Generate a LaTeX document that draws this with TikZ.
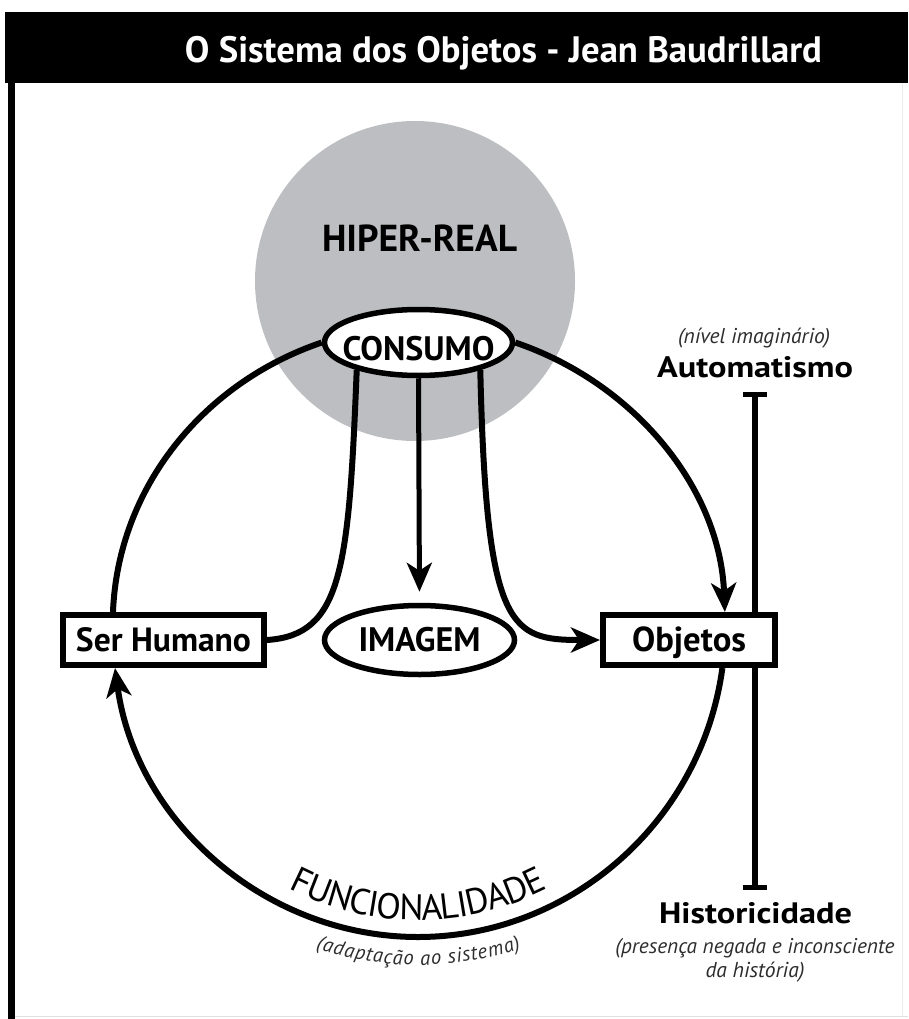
\documentclass[tikz,border=0pt]{standalone}
\usepackage{fontspec}
\setmainfont{PT Sans}
\usetikzlibrary{arrows.meta,decorations.text,shapes.geometric}
\definecolor{hgray}{RGB}{189,190,193}
\definecolor{notegray}{RGB}{45,45,45}
\newcommand{\fitw}[2]{\resizebox{#1}{!}{#2}}
\begin{document}
\begin{tikzpicture}[x=1pt,y=-1pt,
  box/.style={draw, line width=6pt, fill=white, inner sep=0pt, minimum height=50pt,
              text height=22pt, text depth=0pt, font=\bfseries\fontsize{30}{36}\selectfont},
  ell/.style={ellipse, draw, line width=5.5pt, fill=white, inner sep=0pt, text depth=0pt,
              font=\bfseries\fontsize{30}{36}\selectfont},
  conn/.style={line width=6pt},
  tip/.style={-{Stealth[length=29pt,width=25pt,inset=8pt]}},
  lbl/.style={font=\bfseries\fontsize{30}{36}\selectfont, inner sep=0pt, anchor=base},
  note/.style={font=\itshape\fontsize{20}{24}\selectfont, text=notegray, inner sep=0pt, anchor=base}]
\useasboundingbox (0,0) rectangle (908,1019);
\fill[white] (0,0) rectangle (908,1019);
% frame
\fill[black] (5,12) rectangle (908,83);
\fill[black] (8,83) rectangle (15,1019);
\draw[black!12, line width=1pt] (15,1016.5) -- (908,1016.5);
\draw[black!8, line width=1pt] (902,83) -- (902,1016);
\node[text=white, font=\bfseries\fontsize{38}{44}\selectfont, inner sep=0pt, anchor=base] (title) at (503.5,63)
  {\fitw{637pt}{O Sistema dos Objetos - Jean Baudrillard}};
% hyper-real disc
\fill[hgray] (415,281) circle[radius=160];
\node[lbl] (hiper) at (419.5,251) {\fitw{195pt}{HIPER-REAL}};
% scale bar
\coordinate (bartop) at (755,392);
\coordinate (barbot) at (755,890);
\draw[line width=5.5pt, {Bar[width=24pt,line width=5pt]}-{Bar[width=24pt,line width=5pt]}] (bartop) -- (barbot);
\node[note] (nivel) at (754,343) {\fitw{152pt}{(nível imaginário)}};
\node[lbl] (auto) at (755,377) {\resizebox{196pt}{21pt}{Automatismo}};
\node[lbl] (hist) at (755.5,923) {\resizebox{193pt}{21pt}{Historicidade}};
\node[note] (pres1) at (755,953) {\fitw{279pt}{(presença negada e inconsciente}};
\node[note] (pres2) at (755,977) {\fitw{99pt}{da história)}};
% nodes
\node[ell, minimum width=188pt, minimum height=66pt, text height=35pt] (consumo) at (418.5,342.5)
  {\makebox[0pt]{\fitw{152pt}{CONSUMO}}};
\node[ell, minimum width=190pt, minimum height=69pt, text height=22pt] (imagem) at (419.5,640)
  {\makebox[0pt]{\fitw{122pt}{IMAGEM}}};
\node[box, minimum width=201pt] (ser) at (163.5,640) {\fitw{175pt}{Ser Humano}};
\node[box, minimum width=172pt] (obj) at (689,640) {\fitw{114pt}{Objetos}};
\coordinate (funcbot) at (418,937);
% connectors
\draw[conn] (consumo.west) .. controls +(-118,40) and +(5,-125) .. (ser.151);
\draw[conn, tip] (consumo.east) .. controls +(118,40) and +(-5,-125) .. (obj.38);
\draw[conn] (consumo.204) .. controls +(-8,200) and +(75,-5) .. (ser.east);
\draw[conn, tip] (consumo.-24) .. controls +(6,260) and +(-90,0) .. (obj.west);
\draw[line width=5pt, tip, shorten >=11pt] (consumo.south) -- (imagem.north);
\draw[conn, tip] (obj.-40) .. controls +(-21,154) and +(152,0) .. (funcbot)
   .. controls +(-152,0) and +(21,154) .. (ser.210);
% curved labels
\path[decorate, decoration={text along path, text align=center, raise=17pt,
   text={|\fontsize{36}{43}\selectfont|FUNCIONALIDADE}}]
   (ser.210) .. controls +(21,154) and +(-152,0) .. (funcbot)
   .. controls +(152,0) and +(-21,154) .. (obj.-40);
\path[decorate, decoration={text along path, text align=center, raise=-28pt,
   text={|\itshape\fontsize{20.5}{25}\selectfont\color{notegray}|(adaptação ao sistema)}}]
   (ser.210) .. controls +(21,154) and +(-152,0) .. (funcbot)
   .. controls +(152,0) and +(-21,154) .. (obj.-40);
\end{tikzpicture}
\end{document}
